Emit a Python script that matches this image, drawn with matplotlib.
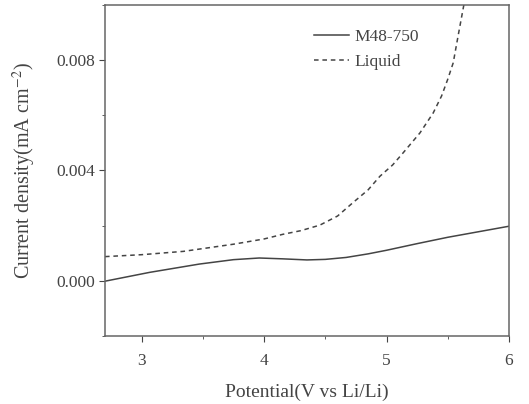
import numpy as np
import matplotlib.pyplot as plt
from matplotlib.ticker import MultipleLocator

plt.rcParams['font.family'] = ['Liberation Serif', 'DejaVu Serif']
plt.rcParams['mathtext.fontset'] = 'stix'

# M48-750 (solid)
x_m48 = [2.7, 3.065, 3.47, 3.75, 3.96, 4.15, 4.35, 4.5, 4.67, 4.85, 5.0, 5.25, 5.5, 5.75, 6.0]
y_m48 = [-0.00001, 0.00031, 0.00061, 0.00077, 0.00083, 0.0008, 0.00076, 0.00078,
         0.00085, 0.00098, 0.00111, 0.00135, 0.00158, 0.00178, 0.00198]

# Liquid (dashed)
x_liq = [2.7, 3.0, 3.34, 3.75, 4.0, 4.155, 4.3, 4.455, 4.6, 4.727, 4.85, 4.946,
         5.05, 5.136, 5.273, 5.381, 5.45, 5.5, 5.545, 5.586, 5.632, 5.65]
y_liq = [0.00088, 0.00095, 0.00107, 0.00133, 0.00152, 0.00169, 0.00182, 0.00202,
         0.00235, 0.00284, 0.0033, 0.00379, 0.0042, 0.00464, 0.00536, 0.00608,
         0.0067, 0.0073, 0.0079, 0.0089, 0.0100, 0.0105]

col = '#444444'
fig = plt.figure(figsize=(5.29, 4.04), dpi=100)
ax = fig.add_axes([0.1985, 0.168, 0.7635, 0.82])
ax.plot(x_m48, y_m48, '-', color=col, lw=1.1, label='M48-750')
ax.plot(x_liq, y_liq, '--', color=col, lw=1.1, dashes=(3, 2.5), label='Liquid')

ax.set_xlim(2.7, 6.0)
ax.set_ylim(-0.002, 0.010)
ax.xaxis.set_major_locator(MultipleLocator(1))
ax.xaxis.set_minor_locator(MultipleLocator(0.5))
ax.set_yticks([0.0, 0.004, 0.008])
ax.set_yticklabels(['0.000', '0.004', '0.008'])
ax.yaxis.set_minor_locator(MultipleLocator(0.002))
ax.tick_params(which='both', direction='out', colors=col, labelsize=12.5, top=False, right=False)
ax.tick_params(which='major', length=4)
ax.tick_params(which='minor', length=2.5)
ax.tick_params(axis='x', pad=8)
ax.tick_params(axis='y', pad=3)
for s in ax.spines.values():
    s.set_color('#666666')
    s.set_linewidth(1.1)

ax.set_xlabel('Potential(V vs Li/Li)', fontsize=14, color=col, labelpad=11)
ax.set_ylabel(r'Current density(mA cm$^{-2}$)', fontsize=14.5, color=col, labelpad=13)

leg = ax.legend(loc='upper left', bbox_to_anchor=(0.48, 0.975), frameon=False,
                fontsize=12.5, handlelength=2.0, labelspacing=0.5, handletextpad=0.3)
for t in leg.get_texts():
    t.set_color(col)

fig.savefig('out.png', dpi=100)
